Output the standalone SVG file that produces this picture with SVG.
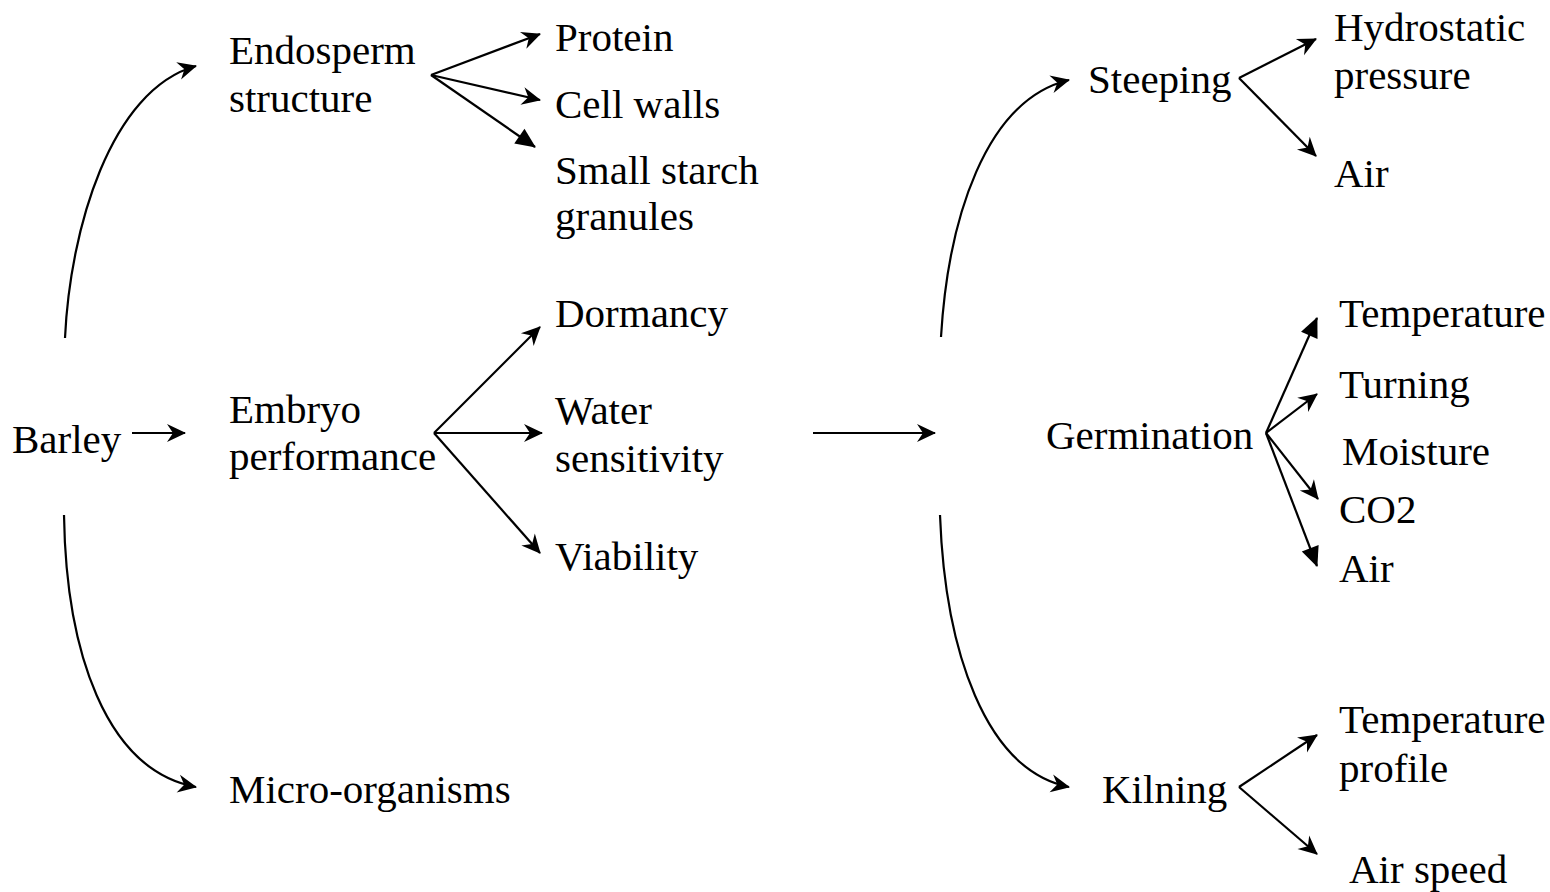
<svg xmlns="http://www.w3.org/2000/svg" width="1550" height="892" viewBox="0 0 1550 892">
<style>
text{font-family:"Liberation Serif","Times New Roman",serif;font-size:41px;fill:#000}
.c{fill:none;stroke:#000;stroke-width:2.2}
.s{marker-end:url(#st)}
.t{marker-end:url(#tri)}
</style>
<defs>
<marker id="st" markerUnits="userSpaceOnUse" viewBox="-20 -10 22 20" refX="0" refY="0" markerWidth="22" markerHeight="20" orient="auto" overflow="visible">
<path d="M1,0 L-18,-9 L-12,0 L-18,9 Z" fill="#000"/>
</marker>
<marker id="tri" markerUnits="userSpaceOnUse" viewBox="-22 -10 24 20" refX="0" refY="0" markerWidth="24" markerHeight="20" orient="auto" overflow="visible">
<path d="M1,0 L-19,-9 L-19,9 Z" fill="#000"/>
</marker>
</defs>
<rect width="1550" height="892" fill="#fff"/>
<g id="connectors">
<path class="c s" d="M65,338 C70,230 110,90 196,66"/>
<path class="c s" d="M64,515 C66,650 105,770 196,787"/>
<path class="c s" d="M132,433 L185,433"/>
<path class="c s" d="M431,75 L540,34"/>
<path class="c s" d="M431,75 L540,100"/>
<path class="c t" d="M431,75 L535,147"/>
<path class="c s" d="M434,433 L540,327"/>
<path class="c s" d="M434,433 L542,433"/>
<path class="c s" d="M434,433 L540,553"/>
<path class="c s" d="M813,433 L935,433"/>
<path class="c s" d="M941,337 C948,220 985,100 1069,80"/>
<path class="c s" d="M940,515 C945,650 985,770 1069,787"/>
<path class="c s" d="M1239,78 L1316,39"/>
<path class="c s" d="M1239,78 L1316,156"/>
<path class="c t" d="M1266,433 L1317,318"/>
<path class="c s" d="M1266,433 L1317,394"/>
<path class="c s" d="M1266,433 L1318,499"/>
<path class="c t" d="M1266,433 L1317,566"/>
<path class="c s" d="M1239,787 L1317,735"/>
<path class="c s" d="M1239,787 L1317,854"/>
</g>
<g id="barley"><text x="12" y="453">Barley</text></g>
<g id="endosperm"><text x="229" y="64">Endosperm</text><text x="229" y="112">structure</text></g>
<g id="embryo"><text x="229" y="423">Embryo</text><text x="229" y="470">performance</text></g>
<g id="micro"><text x="229" y="803">Micro-organisms</text></g>
<g id="protein"><text x="555" y="51">Protein</text></g>
<g id="cellwalls"><text x="555" y="118">Cell walls</text></g>
<g id="starch"><text x="555" y="184">Small starch</text><text x="555" y="230">granules</text></g>
<g id="dormancy"><text x="555" y="327">Dormancy</text></g>
<g id="water"><text x="555" y="424">Water</text><text x="555" y="472">sensitivity</text></g>
<g id="viability"><text x="555" y="570">Viability</text></g>
<g id="steeping"><text x="1088" y="93">Steeping</text></g>
<g id="germination"><text x="1046" y="449">Germination</text></g>
<g id="kilning"><text x="1102" y="803">Kilning</text></g>
<g id="hydrostatic"><text x="1334" y="41">Hydrostatic</text><text x="1334" y="89">pressure</text></g>
<g id="air1"><text x="1334" y="187">Air</text></g>
<g id="temperature"><text x="1339" y="327">Temperature</text></g>
<g id="turning"><text x="1339" y="398">Turning</text></g>
<g id="moisture"><text x="1342" y="465">Moisture</text></g>
<g id="co2"><text x="1339" y="523">CO2</text></g>
<g id="air2"><text x="1339" y="582">Air</text></g>
<g id="tprofile"><text x="1339" y="733">Temperature</text><text x="1339" y="782">profile</text></g>
<g id="airspeed"><text x="1349" y="883">Air speed</text></g>
</svg>
